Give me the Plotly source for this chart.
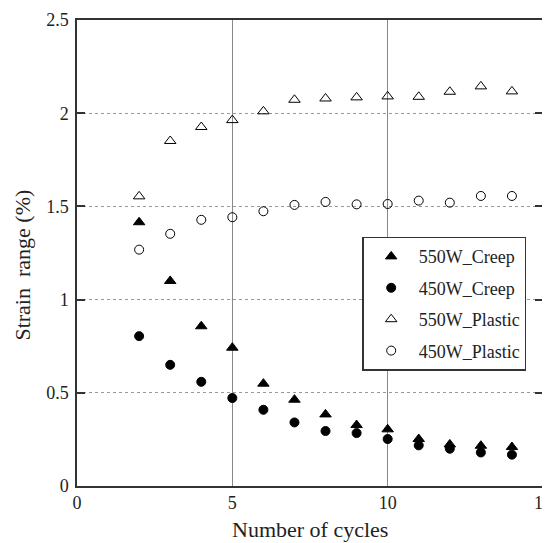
import plotly.graph_objects as go

cycles = [2, 3, 4, 5, 6, 7, 8, 9, 10, 11, 12, 13, 14]
creep_550 = [1.415, 1.10, 0.857, 0.742, 0.549, 0.463, 0.384, 0.327, 0.304, 0.252, 0.223, 0.216, 0.209]
creep_450 = [0.804, 0.650, 0.559, 0.472, 0.409, 0.341, 0.295, 0.284, 0.252, 0.218, 0.200, 0.180, 0.168]
plastic_550 = [1.554, 1.851, 1.926, 1.963, 2.010, 2.072, 2.079, 2.085, 2.090, 2.088, 2.115, 2.144, 2.117]
plastic_450 = [1.268, 1.353, 1.428, 1.442, 1.474, 1.508, 1.524, 1.511, 1.513, 1.531, 1.520, 1.556, 1.556]

series = [
    ("550W_Creep", creep_550, "triangle-up", 10),
    ("450W_Creep", creep_450, "circle", 9),
    ("550W_Plastic", plastic_550, "triangle-up-open", 10),
    ("450W_Plastic", plastic_450, "circle-open", 9),
]

FONT = "Liberation Serif, Times New Roman, serif"
fig = go.Figure()
for i, (name, vals, sym, sz) in enumerate(series):
    fig.add_trace(go.Scatter(
        x=cycles, y=vals, mode="markers", name=name, legendgroup=f"g{i}",
        marker=dict(symbol=sym, size=sz, color="black", line=dict(color="black", width=1)),
    ))

# page body has an 8px default margin, so the figure is offset by 8px
fig.update_layout(
    width=542, height=535,
    margin=dict(l=69, r=7, t=12, b=57, autoexpand=False),
    paper_bgcolor="white", plot_bgcolor="white",
    font=dict(family=FONT, size=18, color="#222"),
    showlegend=True,
    legend=dict(
        x=0.612, y=0.535, xanchor="left", yanchor="top",
        bgcolor="white", bordercolor="#333", borderwidth=1.5,
        font=dict(family=FONT, size=18, color="#222"),
        tracegroupgap=5, itemwidth=45,
    ),
    xaxis=dict(
        range=[0, 15], tickvals=[0, 5, 10, 15], ticktext=["0", "5", "10", "15"],
        showgrid=True, gridcolor="#888", gridwidth=1,
        showline=True, linecolor="#333", linewidth=1.5, mirror=True,
        ticks="", zeroline=False, automargin=False, ticklabeloverflow="allow",
    ),
    yaxis=dict(
        range=[0, 2.5], tickvals=[0, 0.5, 1, 1.5, 2, 2.5], ticktext=["0", "0.5", "1", "1.5", "2", "2.5"],
        showgrid=True, gridcolor="#999", gridwidth=1, griddash="dot",
        showline=True, linecolor="#333", linewidth=1.5, mirror="ticks",
        ticks="inside", ticklen=8, tickcolor="#333", tickwidth=1.5, zeroline=False,
        automargin=False, ticklabelstandoff=3,
    ),
    annotations=[
        dict(text="Number of cycles", xref="paper", yref="paper", x=0.5, y=0,
             xanchor="center", yanchor="middle", yshift=-43, showarrow=False,
             font=dict(family=FONT, size=22, color="#222")),
        dict(text="Strain  range (%)", xref="paper", yref="paper", x=0, y=0.473,
             xanchor="center", yanchor="middle", xshift=-54, textangle=-90, showarrow=False,
             font=dict(family=FONT, size=22, color="#222")),
    ],
)
fig.write_html("out.html")
